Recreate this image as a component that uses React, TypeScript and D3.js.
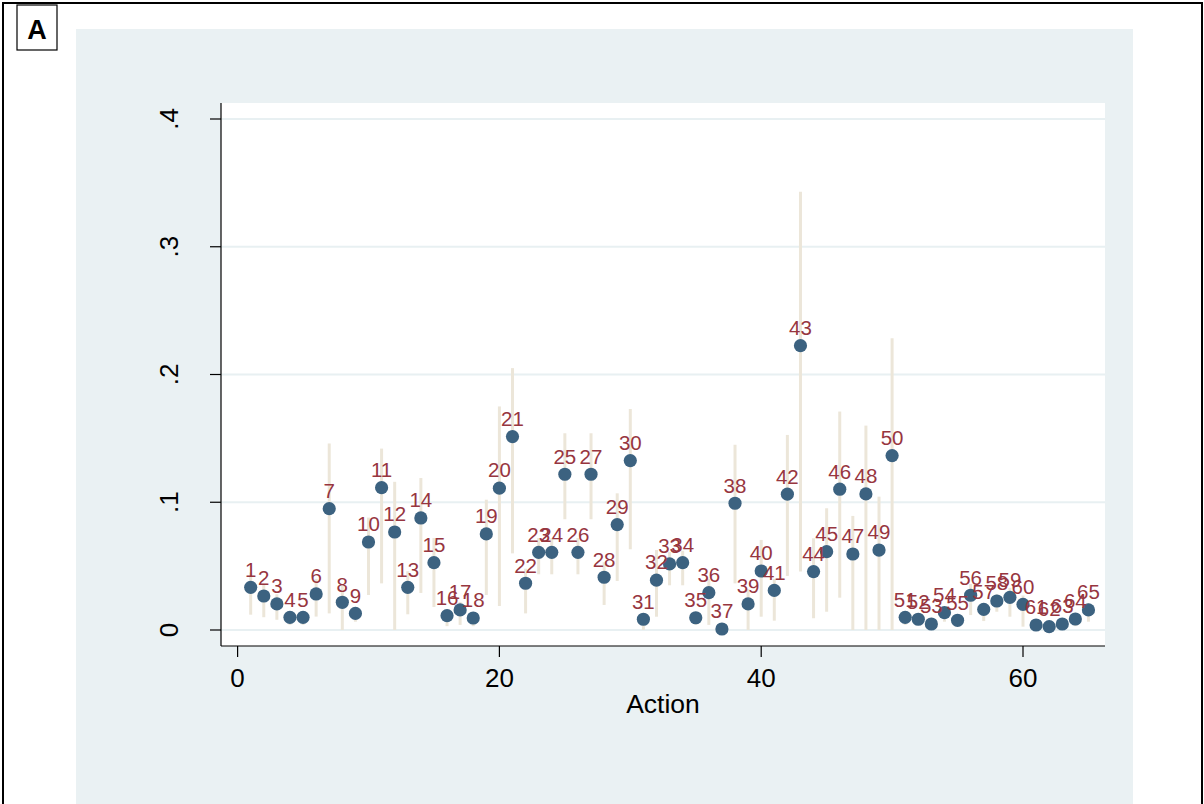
import React from "react";
import * as d3 from "d3";

// action ids and the estimate / interval for each one
const actions = d3.range(1, 66);
const estimates = [
  0.0334, 0.0266, 0.0204, 0.0099, 0.0099, 0.0282, 0.095, 0.0217, 0.013, 0.0689,
  0.1114, 0.0767, 0.0334, 0.0877, 0.0527, 0.0112, 0.0157, 0.0094, 0.0752, 0.111,
  0.1514, 0.0366, 0.0608, 0.0608, 0.1219, 0.0608, 0.1219, 0.0413, 0.0825, 0.1326,
  0.0084, 0.039, 0.0517, 0.0527, 0.0096, 0.0292, 0.0008, 0.0992, 0.0204, 0.0462,
  0.031, 0.1063, 0.2226, 0.0457, 0.0613, 0.1102, 0.0595, 0.1065, 0.0626, 0.1365,
  0.0099, 0.0084, 0.0047, 0.0136, 0.0076, 0.0272, 0.0162, 0.0227, 0.0256, 0.0201,
  0.0039, 0.0026, 0.0047, 0.0086, 0.0157
];
const lower = [
  0.012, 0.01, 0.008, 0.004, 0.004, 0.0105, 0.013, 0, 0.0065, 0.0274,
  0.0365, 0, 0.0123, 0.029, 0.018, 0.003, 0.004, 0.003, 0.0274, 0.0188,
  0.06, 0.013, 0.0436, 0.0436, 0.0867, 0.0436, 0.0867, 0.0196, 0.0384, 0.0632,
  0, 0.0104, 0.035, 0.035, 0.004, 0.004, 0, 0.0365, 0, 0.0104,
  0.0073, 0.0423, 0.0457, 0.0092, 0.0143, 0.0253, 0, 0, 0, 0,
  0.004, 0.004, 0.001, 0.0065, 0.003, 0.0117, 0.007, 0.0143, 0.0104, 0.0026,
  0.001, 0.001, 0.001, 0.003, 0.0065
];
const upper = [
  0.045, 0.036, 0.028, 0.014, 0.014, 0.04, 0.146, 0.035, 0.018, 0.088,
  0.142, 0.116, 0.046, 0.119, 0.072, 0.016, 0.022, 0.013, 0.102, 0.175,
  0.205, 0.048, 0.072, 0.072, 0.154, 0.072, 0.154, 0.053, 0.107, 0.173,
  0.012, 0.0626, 0.061, 0.062, 0.013, 0.04, 0.002, 0.145, 0.032, 0.0705,
  0.04, 0.1527, 0.343, 0.0718, 0.0953, 0.171, 0.0893, 0.16, 0.1044, 0.2284,
  0.013, 0.012, 0.007, 0.018, 0.01, 0.036, 0.021, 0.028, 0.033, 0.027,
  0.006, 0.004, 0.007, 0.012, 0.021
];
const yTicks = [0, 0.1, 0.2, 0.3, 0.4];
const yTickLabels = ["0", ".1", ".2", ".3", ".4"];
const xTicks = [0, 20, 40, 60];

const font = "'Liberation Sans', Arial, Helvetica, sans-serif";

const plot = { left: 221, right: 1105, top: 103, bottom: 646 };

export default function App() {
  const x = d3.scaleLinear().domain([0, 60]).range([237.6, 1023]);
  const y = d3.scaleLinear().domain([0, 0.4]).range([630, 119]);

  const rows = actions.map((a, i) => ({
    a,
    v: estimates[i],
    lo: lower[i],
    hi: upper[i]
  }));

  return (
    <svg
      width={1204}
      height={804}
      style={{ position: "absolute", left: 0, top: 0, background: "#fff" }}
      fontFamily={font}
    >
      <rect x={3} y={3} width={1199} height={820} fill="#fff" stroke="#000" strokeWidth={2} />
      <rect x={17} y={5} width={40} height={45} fill="#fff" stroke="#000" strokeWidth={1.2} />
      <text x={37} y={38.5} textAnchor="middle" fontSize={27} fontWeight="bold">A</text>

      <rect x={76} y={29} width={1057} height={800} fill="#eaf1f3" />
      <rect
        x={plot.left}
        y={plot.top}
        width={plot.right - plot.left}
        height={plot.bottom - plot.top}
        fill="#fff"
      />

      {/* gridlines */}
      {yTicks.map(t => (
        <line
          key={"g" + t}
          x1={plot.left}
          x2={plot.right}
          y1={y(t)}
          y2={y(t)}
          stroke="#e8f0f2"
          strokeWidth={2}
        />
      ))}

      {/* intervals */}
      {rows.map(d => (
        <line
          key={"ci" + d.a}
          x1={x(d.a)}
          x2={x(d.a)}
          y1={y(d.lo)}
          y2={y(d.hi)}
          stroke="#ece6d9"
          strokeWidth={3}
        />
      ))}

      {/* markers */}
      {rows.map(d => (
        <circle key={"p" + d.a} cx={x(d.a)} cy={y(d.v)} r={6.6} fill="#3c6280" />
      ))}

      {/* labels */}
      {rows.map(d => (
        <text
          key={"l" + d.a}
          x={x(d.a)}
          y={y(d.v) - 10.7}
          textAnchor="middle"
          fontSize={20.5}
          fill="#97363f"
        >
          {d.a}
        </text>
      ))}

      {/* axes */}
      <line x1={plot.left} x2={plot.left} y1={plot.top} y2={plot.bottom} stroke="#000" strokeWidth={1.2} />
      <line x1={plot.left} x2={plot.right} y1={plot.bottom} y2={plot.bottom} stroke="#000" strokeWidth={1.2} />

      {yTicks.map((t, i) => (
        <g key={"yt" + t}>
          <line x1={plot.left - 11} x2={plot.left} y1={y(t)} y2={y(t)} stroke="#000" strokeWidth={1.2} />
          <text
            transform={`translate(177.5,${y(t)}) rotate(-90)`}
            textAnchor="middle"
            fontSize={26}
            fill="#000"
          >
            {yTickLabels[i]}
          </text>
        </g>
      ))}

      {xTicks.map(t => (
        <g key={"xt" + t}>
          <line x1={x(t)} x2={x(t)} y1={plot.bottom} y2={plot.bottom + 11} stroke="#000" strokeWidth={1.2} />
          <text x={x(t)} y={687} textAnchor="middle" fontSize={26} fill="#000">
            {t}
          </text>
        </g>
      ))}

      <text x={(plot.left + plot.right) / 2} y={713} textAnchor="middle" fontSize={26.5} fill="#000">
        Action
      </text>
    </svg>
  );
}
